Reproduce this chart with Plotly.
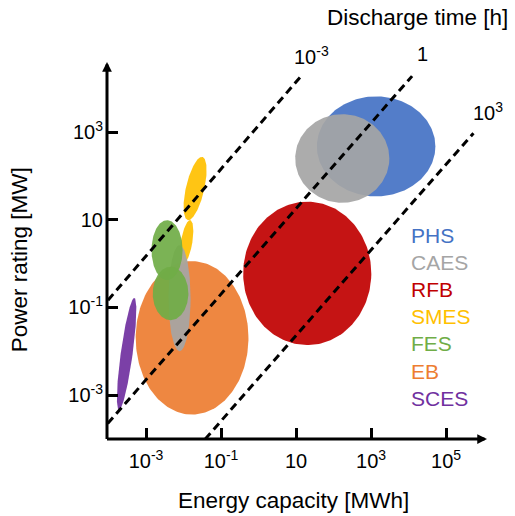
import numpy as np
import plotly.graph_objects as go

# ---------------- data ----------------
tech_names = ["PHS", "CAES", "RFB", "SMES", "FES", "EB", "SCES"]
tech_colors = ["#4472C4", "#A5A5A5", "#C00000", "#FFC000", "#70AD47", "#ED7D31", "#7030A0"]

# ellipse regions (log10 units): centre, half-width in E, half-height in P, skew (tilt of major axis in E)
region_tech = ["PHS", "CAES", "RFB", "EB", "SMES", "SMES", "CAES", "FES", "FES", "SCES"]
region_logE = [3.134, 2.232, 1.298, -1.772, -1.692, -1.919, -2.106, -2.439, -2.346, -3.517]
region_logP = [2.674, 2.400, -0.222, -1.693, 1.714, 0.490, -0.787, 0.308, -0.680, -2.062]
region_halfE = [1.580, 1.255, 1.708, 1.503, 0.250, 0.155, 0.294, 0.414, 0.475, 0.160]
region_halfP = [1.141, 1.011, 1.636, 1.750, 0.722, 0.502, 1.209, 0.684, 0.609, 1.281]
region_skewE = [0.0, 0.0, 0.0, 0.0, 0.179, 0.093, 0.0, 0.0, 0.0, 0.204]

# discharge-time guide lines (log10 endpoints)
line_labels = ["10<sup>-3</sup>", "1", "10<sup>3</sup>"]
line_logE0 = [-4.014, -4.022, -1.425]
line_logP0 = [-0.833, -3.646, -4.004]
line_logE1 = [1.111, 4.093, 5.729]
line_logP1 = [4.255, 4.278, 2.977]
line_label_shift = [11, 10, 15]

x_tickvals = [1e-3, 1e-1, 1e1, 1e3, 1e5]
x_ticktext = ["10<sup>-3</sup>", "10<sup>-1</sup>", "10", "10<sup>3</sup>", "10<sup>5</sup>"]
y_tickvals = [1e-3, 1e-1, 1e1, 1e3]
y_ticktext = ["10<sup>-3</sup>", "10<sup>-1</sup>", "10", "10<sup>3</sup>"]

FONT = "Arial, Liberation Sans, sans-serif"


def hex_rgba(h, a):
    h = h.lstrip("#")
    return "rgba(%d,%d,%d,%.2f)" % (int(h[0:2], 16), int(h[2:4], 16), int(h[4:6], 16), a)


color_of = dict(zip(tech_names, tech_colors))

fig = go.Figure()

t = np.linspace(0, 2 * np.pi, 200)
for tech, cx, cy, w, h, s in zip(region_tech, region_logE, region_logP,
                                  region_halfE, region_halfP, region_skewE):
    xs = cx + w * np.cos(t) + s * np.sin(t)
    ys = cy + h * np.sin(t)
    fig.add_trace(go.Scatter(
        x=10 ** xs, y=10 ** ys, mode="lines", fill="toself",
        fillcolor=hex_rgba(color_of[tech], 0.92),
        line=dict(width=0, color="rgba(0,0,0,0)"),
        hoverinfo="skip", showlegend=False))

for e0, p0, e1, p1 in zip(line_logE0, line_logP0, line_logE1, line_logP1):
    fig.add_trace(go.Scatter(
        x=[10 ** e0, 10 ** e1], y=[10 ** p0, 10 ** p1], mode="lines",
        line=dict(color="black", width=3, dash="8px,5px"),
        hoverinfo="skip", showlegend=False))

annotations = []
for lab, e1, p1, sh in zip(line_labels, line_logE1, line_logP1, line_label_shift):
    annotations.append(dict(x=e1, y=p1, xref="x", yref="y", text=lab, showarrow=False,
                            xanchor="center", yanchor="middle", xshift=sh, yshift=22,
                            font=dict(size=20, color="black", family=FONT)))

# legend as coloured text
for i, (name, col) in enumerate(zip(tech_names, tech_colors)):
    annotations.append(dict(x=0.794, y=0.541 - i * 0.0722, xref="paper", yref="paper",
                            text=name, showarrow=False, xanchor="left", yanchor="middle",
                            font=dict(size=21, color=col, family=FONT)))

# axis titles
annotations.append(dict(x=0.490, y=-0.162, xref="paper", yref="paper",
                        text="Energy capacity [MWh]", showarrow=False,
                        xanchor="center", yanchor="middle",
                        font=dict(size=22.5, color="black", family=FONT)))
annotations.append(dict(x=-0.228, y=0.475, xref="paper", yref="paper",
                        text="Power rating [MW]", showarrow=False, textangle=-90,
                        xanchor="center", yanchor="middle",
                        font=dict(size=22.5, color="black", family=FONT)))
annotations.append(dict(x=1.060, y=1.117, xref="paper", yref="paper",
                        text="Discharge time [h]", showarrow=False,
                        xanchor="right", yanchor="middle",
                        font=dict(size=22.5, color="black", family=FONT)))

# axis arrows
annotations.append(dict(x=1, y=0, xref="paper", yref="paper", ax=-381.5, ay=0,
                        axref="pixel", ayref="pixel", text="", showarrow=True,
                        arrowhead=2, arrowsize=0.65, arrowwidth=3, arrowcolor="black"))
annotations.append(dict(x=0, y=1, xref="paper", yref="paper", ax=0, ay=378.5,
                        axref="pixel", ayref="pixel", text="", showarrow=True,
                        arrowhead=2, arrowsize=0.65, arrowwidth=3, arrowcolor="black"))

fig.update_layout(
    width=515, height=516,
    margin=dict(l=107, r=28, t=62, b=77),
    paper_bgcolor="white", plot_bgcolor="white",
    font=dict(family=FONT, color="black"),
    annotations=annotations,
    xaxis=dict(type="log", range=[-4.04, 6.09], showgrid=False, zeroline=False,
               showline=False, ticks="inside", ticklen=11, tickwidth=3, tickcolor="black",
               tickvals=x_tickvals, ticktext=x_ticktext, tickfont=dict(size=20, family=FONT),
               ticklabelstandoff=8),
    yaxis=dict(type="log", range=[-4.0, 4.6], showgrid=False, zeroline=False,
               showline=False, ticks="inside", ticklen=11, tickwidth=3, tickcolor="black",
               tickvals=y_tickvals, ticktext=y_ticktext, tickfont=dict(size=20, family=FONT),
               ticklabelstandoff=3),
)

# remove the default page margin so the 515x516 figure fills the window exactly
fig.write_html("out.html",
               config={"displayModeBar": False},
               post_script="document.body.style.margin='0';document.body.style.overflow='hidden';")
